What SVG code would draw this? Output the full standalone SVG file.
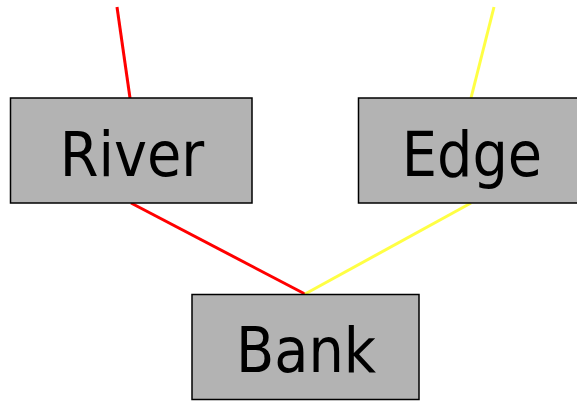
<svg xmlns="http://www.w3.org/2000/svg" width="577" height="401" viewBox="0 0 577 401">
  <style>
    .node rect { fill: #b3b3b3; stroke: #000; stroke-width: 1.5; }
    .node text { font-family: "DejaVu Sans Condensed", "DejaVu Sans", sans-serif; font-size: 62px; fill: #000; text-anchor: middle; }
    .red { stroke: #ff0000; stroke-width: 3; fill: none; }
    .yellow { stroke: #ffff44; stroke-width: 3; fill: none; }
  </style>
  <rect width="577" height="401" fill="#fff"/>
  <g id="connectors">
    <line class="red" x1="117" y1="7" x2="130" y2="98"/>
    <line class="red" x1="131" y1="203" x2="305" y2="294"/>
    <line class="yellow" x1="494" y1="7" x2="471" y2="98"/>
    <line class="yellow" x1="471" y1="203" x2="305" y2="294"/>
  </g>
  <g id="river" class="node">
    <rect x="10.5" y="98" width="241.5" height="105"/>
    <text x="132" y="176">River</text>
  </g>
  <g id="edge" class="node">
    <rect x="358.5" y="98" width="226" height="105"/>
    <text x="472" y="176">Edge</text>
  </g>
  <g id="bank" class="node">
    <rect x="192" y="294.5" width="227" height="105"/>
    <text x="306" y="372">Bank</text>
  </g>
</svg>
